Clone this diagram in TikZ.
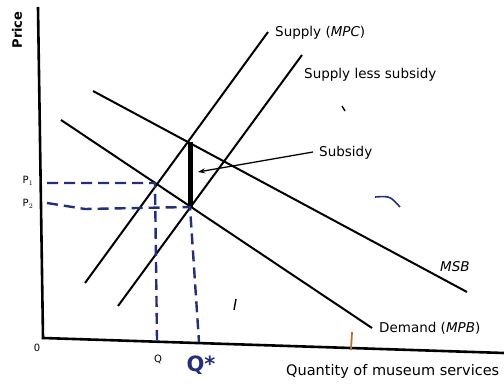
\documentclass[tikz,border=0pt]{standalone}
\usepackage{fontspec}
\setmainfont{DejaVu Sans}
\usetikzlibrary{arrows.meta}
\definecolor{navy}{HTML}{22307A}
\definecolor{rust}{HTML}{B0703A}
\begin{document}
\begin{tikzpicture}[x=1pt,y=-1pt,
  curve/.style={line width=2pt},
  axis/.style={line width=2.6pt},
  lbl/.style={font=\fontsize{13.5}{15}\selectfont, inner sep=0pt, anchor=west},
  small/.style={font=\fontsize{10}{12}\selectfont, inner sep=0pt},
  guide/.style={draw=navy, line width=2.4pt, dash pattern=on 11pt off 6pt},
  ]
\useasboundingbox (0,0) rectangle (504,387);
% axes
\coordinate (ytop) at (38,7);
\coordinate (o) at (43,338);
\coordinate (xend) at (504,353);
\draw[axis] (ytop) -- (o) -- (xend);
% curve end points
\coordinate (mpc0) at (85,283);   \coordinate (mpc1) at (268,32);
\coordinate (sls0) at (118,306);  \coordinate (sls1) at (302,55);
\coordinate (msb0) at (93,91);    \coordinate (msb1) at (467,292);
\coordinate (dem0) at (61,120);   \coordinate (dem1) at (372,328);
\draw[curve] (mpc0) -- (mpc1);
\draw[curve] (sls0) -- (sls1);
\draw[curve] (msb0) -- (msb1);
\draw[curve] (dem0) -- (dem1);
% key points
\coordinate (eA) at (155,183);   % demand x MPC
\coordinate (top) at (190,142);  % MSB x MPC
\coordinate (eB) at (190,207);   % demand x supply less subsidy
\coordinate (sub) at (226,163);  % MSB x supply less subsidy
% subsidy bar
\draw[line width=5pt] (top) -- (eB);
% dashed guides
\coordinate (pA) at (47,183);
\coordinate (pB) at (47,203);
\coordinate (pBm) at (85,209);
\coordinate (qA) at (157,340);
\coordinate (qB) at (199,342);
\draw[guide] (pA) -- (eA) -- (qA);
\draw[guide] (pB) -- (pBm) -- (eB) -- (qB);
% labels
\node[lbl] (lmpc) at (275,33) {Supply (\textit{MPC})};
\node[lbl] (lsls) at (304,75) {Supply less subsidy};
\node[lbl] (lsub) at (319,153) {Subsidy};
\node[lbl] (lmsb) at (440,267) {\textit{MSB}};
\node[lbl] (ldem) at (379,328) {Demand (\textit{MPB})};
\node[lbl, font=\fontsize{14.5}{16}\selectfont] (lqty) at (286,372) {Quantity of museum services};
\node[font=\fontsize{13}{15}\selectfont\bfseries, inner sep=0pt, rotate=90] (lprice) at (17,30) {Price};
\node[small] (l0) at (37,348) {0};
\node[small] (lq) at (158,359) {Q};
\node[small] (lp1) at (28,181) {P$_1$};
\node[small] (lp2) at (28,204) {P$_2$};
\node[text=navy, font=\fontsize{21}{23}\selectfont\bfseries, inner sep=0pt] (lqs) at (201,365) {Q*};
% subsidy pointer
\coordinate (arrS) at (313,152);
\coordinate (arrE) at (198,172);
\draw[line width=1.3pt, -{Stealth[length=7pt,width=5pt]}] (arrS) -- (arrE);
% stray marks in the scan
\draw[line width=1.4pt] (342,106) -- (345,111);
\draw[line width=1.4pt] (236,299) -- (234,310);
\draw[draw=navy, line width=1.6pt] (375,197) .. controls (390,196) .. (400,207);
\draw[draw=rust, line width=1.8pt] (352,332) -- (351,350);
\end{tikzpicture}
\end{document}
